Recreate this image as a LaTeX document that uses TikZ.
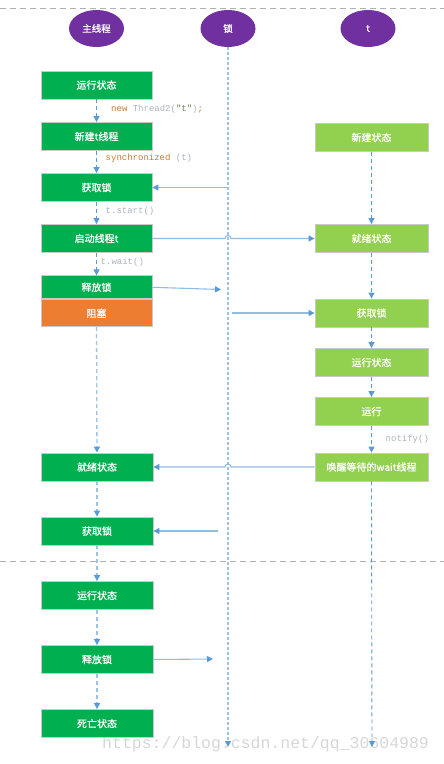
\documentclass[tikz,border=0pt]{standalone}
\usepackage{fontspec}
\newfontfamily\cjk{Noto Sans CJK SC}[FakeBold=0.8]
\newfontfamily\codefont{Liberation Mono}
\usetikzlibrary{arrows.meta,shapes.geometric}
\definecolor{purp}{HTML}{7030A0}
\definecolor{dgreen}{HTML}{00B050}
\definecolor{lgreen}{HTML}{92D050}
\definecolor{orng}{HTML}{ED7D31}
\definecolor{ablue}{HTML}{5B9BD5}
\definecolor{lblue}{HTML}{9DC3E6}
\definecolor{boxedge}{HTML}{C9C9C9}
\definecolor{kw}{HTML}{CC7832}
\definecolor{cgray}{HTML}{AAB4BE}
\definecolor{strg}{HTML}{6A8759}
\definecolor{sepgray}{HTML}{B0B0B0}
\definecolor{wm}{HTML}{D6D6D6}
\tikzset{
  actor/.style={ellipse, fill=purp, minimum width=55pt, minimum height=37pt, inner sep=0pt, text=white, font=\cjk\fontsize{9.5}{10}\selectfont},
  box/.style={rectangle, draw=boxedge, line width=0.8pt, minimum width=111pt, minimum height=28pt, inner sep=0pt, text=white, font=\cjk\fontsize{10}{11}\selectfont},
  mbox/.style={box, fill=dgreen},
  tbox/.style={box, fill=lgreen, minimum width=113pt},
  obox/.style={box, fill=orng},
  tip/.style={-{Triangle[length=6pt,width=6pt,fill=ablue,color=ablue]}},
  flowd/.style={tip, draw=ablue, line width=0.9pt, dash pattern=on 4pt off 3pt},
  flowl/.style={tip, draw=lblue, line width=1.3pt, dash pattern=on 4pt off 3pt},
  lifeline/.style={tip, draw=lblue, line width=1.4pt, dash pattern=on 3pt off 2pt},
  hflow/.style={tip, draw=lblue!80!ablue, line width=1.1pt},
  sep/.style={draw=sepgray, line width=0.9pt, dash pattern=on 6pt off 4pt},
  code/.style={anchor=west, inner sep=0pt, font=\codefont\fontsize{9}{10}\selectfont, text=cgray}
}
\begin{document}
\begin{tikzpicture}[x=1pt,y=-1pt]
\useasboundingbox (0,0) rectangle (444,764);
% separators
\coordinate (s1a) at (0,8); \coordinate (s1b) at (444,8);
\coordinate (s2a) at (0,561); \coordinate (s2b) at (444,561);
\draw[sep] (s1a) -- (s1b);
\draw[sep] (s2a) -- (s2b);
% watermark
\node[anchor=west, inner sep=0pt, text=wm, font=\codefont\fontsize{16.5}{18}\selectfont] (wmark) at (102,744) {https://blog.csdn.net/qq\_30604989};
% actors
\node[actor] (a1) at (96.5,28.5) {主线程};
\node[actor] (a2) at (228,28.5) {锁};
\node[actor] (a3) at (368,28.5) {t};
% main thread boxes
\node[mbox] (m1) at (96.5,85) {运行状态};
\node[mbox] (m2) at (96.5,136.5) {新建t线程};
\node[mbox] (m3) at (96.5,187.5) {获取锁};
\node[mbox] (m4) at (96.5,238.5) {启动线程t};
\node[mbox, minimum height=23pt] (m5) at (96.5,287.3) {释放锁};
\node[obox, minimum height=27pt] (m6) at (96.5,313.3) {阻塞};
\node[mbox, minimum width=112pt] (m7) at (97,467) {就绪状态};
\node[mbox, minimum width=112pt] (m8) at (97,531) {获取锁};
\node[mbox, minimum width=112pt] (m9) at (97,595.5) {运行状态};
\node[mbox, minimum width=112pt] (m10) at (97,659.5) {释放锁};
\node[mbox, minimum width=112pt] (m11) at (97,723.5) {死亡状态};
% t boxes
\node[tbox] (t1) at (371.5,137.5) {新建状态};
\node[tbox] (t2) at (371.5,238.5) {就绪状态};
\node[tbox] (t3) at (371.5,313) {获取锁};
\node[tbox] (t4) at (371.5,362.5) {运行状态};
\node[tbox] (t5) at (371.5,411.5) {运行};
\node[tbox] (t6) at (371.5,467) {唤醒等待的wait线程};
% lifelines
\coordinate (lockend) at (228,747);
\coordinate (tend) at (372,747);
\draw[lifeline] (a2.south) -- (lockend);
\draw[flowd] (t6.south) -- (tend);
% main flow
\draw[flowd] (m1) -- (m2);
\draw[flowd] (m2) -- (m3);
\draw[flowd] (m3) -- (m4);
\draw[flowd] (m4) -- (m5);
\draw[flowl] (m6) -- (m7);
\draw[flowl] (m7) -- (m8);
\draw[flowl] (m8) -- (m9);
\draw[flowl] (m9) -- (m10);
\draw[flowl] (m10) -- (m11);
% t flow
\draw[flowd] (t1) -- (t2);
\draw[flowd] (t2) -- (t3);
\draw[flowd] (t3) -- (t4);
\draw[flowd] (t4) -- (t5);
\draw[flowd] (t5) -- (t6);
% horizontal arrows
\coordinate (l3) at (228,187.5);
\coordinate (hop1) at (225,238.5);
\coordinate (rel1) at (221,289.5);
\coordinate (acq1) at (232,313);
\coordinate (hop2) at (231,467);
\coordinate (acq2) at (218,531);
\coordinate (rel2) at (213,659);
\draw[hflow] (l3) -- (m3.east);
\draw[hflow] (m4.east) -- (hop1) arc[start angle=180, end angle=0, radius=3pt] -- (t2.west);
\draw[hflow] (m5.east) -- (rel1);
\draw[hflow] (acq1) -- (t3.west);
\draw[hflow] (t6.west) -- (hop2) arc[start angle=0, end angle=180, radius=3pt] -- (m7.east);
\draw[hflow] (acq2) -- (m8.east);
\draw[hflow] (m10.east) -- (rel2);
% code labels
\node[code] (c1) at (111,109.5) {\textcolor{kw}{new} Thread2(\textcolor{strg}{"t"})\textcolor{kw}{;}};
\node[code] (c2) at (105.5,158) {\textcolor{kw}{synchronized} (t)};
\node[code] (c3) at (105.5,211) {t.start()};
\node[code] (c4) at (100.5,262) {t.wait()};
\node[code] (c5) at (385.5,439) {notify()};
\end{tikzpicture}
\end{document}
